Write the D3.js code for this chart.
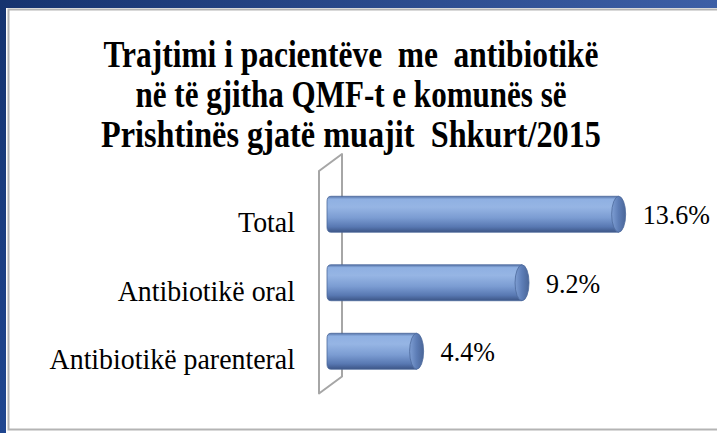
<!DOCTYPE html>
<html>
<head>
<meta charset="utf-8">
<script src="https://cdn.jsdelivr.net/npm/d3@7/dist/d3.min.js"></script>
<style>
  html, body { margin: 0; padding: 0; background: #fff; }
  svg { display: block; }
</style>
</head>
<body>
<svg id="chart" width="717" height="433"></svg>
<script>
// Share of patients treated with antibiotics, Prishtina family medicine centres, February 2015
const categories = ["Total", "Antibiotikë oral", "Antibiotikë parenteral"];
const values = [13.6, 9.2, 4.4];
const valueLabels = ["13.6%", "9.2%", "4.4%"];
const titleLines = [
  "Trajtimi i pacientëve  me  antibiotikë",
  "në të gjitha QMF-t e komunës së",
  "Prishtinës gjatë muajit  Shkurt/2015"
];

const W = 717, H = 433;
const serif = "Liberation Serif, Times New Roman, serif";
const svg = d3.select("#chart");
const defs = svg.append("defs");

// slide frame: dark blue band on top and left, thin grey inner border
const topGrad = defs.append("linearGradient").attr("id", "topBand")
  .attr("x1", 0).attr("x2", 1).attr("y1", 0).attr("y2", 0);
topGrad.append("stop").attr("offset", "0%").attr("stop-color", "#16336f");
topGrad.append("stop").attr("offset", "100%").attr("stop-color", "#3d5fa6");
const leftGrad = defs.append("linearGradient").attr("id", "leftBand")
  .attr("x1", 0).attr("x2", 0).attr("y1", 0).attr("y2", 1);
leftGrad.append("stop").attr("offset", "0%").attr("stop-color", "#15336f");
leftGrad.append("stop").attr("offset", "100%").attr("stop-color", "#1f4690");

svg.append("rect").attr("x", 0).attr("y", 0).attr("width", W).attr("height", 8).attr("fill", "url(#topBand)");
svg.append("rect").attr("x", 0).attr("y", 0).attr("width", 6).attr("height", H).attr("fill", "url(#leftBand)");
svg.append("rect").attr("x", 8.5).attr("y", 9.5).attr("width", W).attr("height", 420)
  .attr("fill", "none").attr("stroke", "#b4b4b4").attr("stroke-width", 2);

// title
const titleCenter = 351;
const titleWidths = [495, 431, 500];
svg.append("g").selectAll("text").data(titleLines).join("text")
  .attr("x", titleCenter)
  .attr("y", (d, i) => 67 + i * 40)
  .attr("text-anchor", "middle")
  .attr("xml:space", "preserve")
  .style("white-space", "pre")
  .attr("font-family", serif)
  .attr("font-weight", "bold")
  .attr("font-size", 38)
  .attr("fill", "#000")
  .attr("textLength", (d, i) => titleWidths[i])
  .attr("lengthAdjust", "spacingAndGlyphs")
  .text(d => d);

// scales
const x = d3.scaleLinear().domain([0, 14]).range([327, 327 + 14 * 21.96]);
const y = d3.scaleBand().domain(categories).range([180, 385.5])
  .paddingInner(0.475).paddingOuter(0.2375);

// 3-D side wall behind the bars
const depthX = 23, depthY = 17;
const wallFront = x(0) - 8, wallBack = wallFront + depthX;
const wallTop = y.range()[0] - 9, wallBottom = y.range()[1] + 8;
const wallPath = d3.path();
wallPath.moveTo(wallFront, wallBottom);
wallPath.lineTo(wallFront, wallTop);
wallPath.lineTo(wallBack, wallTop - depthY);
wallPath.lineTo(wallBack, wallBottom - depthY);
wallPath.closePath();
svg.append("path").attr("d", wallPath.toString())
  .attr("fill", "none").attr("stroke", "#a6a6a6").attr("stroke-width", 2)
  .attr("stroke-linejoin", "round");

// cylinder shading
const body = defs.append("linearGradient").attr("id", "cylBody")
  .attr("x1", 0).attr("x2", 0).attr("y1", 0).attr("y2", 1);
[["0%", "#5573a8"], ["8%", "#8fb0e2"], ["30%", "#96b5e4"], ["60%", "#7b9cd2"],
 ["85%", "#5878b2"], ["100%", "#3c5586"]].forEach(([o, c]) =>
  body.append("stop").attr("offset", o).attr("stop-color", c));
const cap = defs.append("linearGradient").attr("id", "cylCap")
  .attr("x1", 0).attr("x2", 1).attr("y1", 0).attr("y2", 0);
[["0%", "#7e9ed3"], ["50%", "#5d7db6"], ["100%", "#4a6698"]].forEach(([o, c]) =>
  cap.append("stop").attr("offset", o).attr("stop-color", c));

const rx = 7;
const bars = svg.append("g").selectAll("g").data(values).join("g");
bars.append("path")
  .attr("d", (d, i) => {
    const y0 = y(categories[i]), h = y.bandwidth(), x0 = x(0), x1 = x(d) - rx;
    const p = d3.path();
    p.moveTo(x0 + 4, y0);
    p.lineTo(x1, y0);
    p.lineTo(x1, y0 + h);
    p.lineTo(x0 + 4, y0 + h);
    p.quadraticCurveTo(x0, y0 + h, x0, y0 + h - 5);
    p.lineTo(x0, y0 + 5);
    p.quadraticCurveTo(x0, y0, x0 + 4, y0);
    p.closePath();
    return p.toString();
  })
  .attr("fill", "url(#cylBody)")
  .attr("stroke", "#4d6a9c").attr("stroke-width", 0.8);
bars.append("ellipse")
  .attr("cx", (d) => x(d) - rx)
  .attr("cy", (d, i) => y(categories[i]) + y.bandwidth() / 2)
  .attr("rx", rx)
  .attr("ry", y.bandwidth() / 2)
  .attr("fill", "url(#cylCap)")
  .attr("stroke", "#4d6a9c").attr("stroke-width", 0.8);

// category labels
svg.append("g").selectAll("text").data(categories).join("text")
  .attr("transform", d => `translate(295, ${y(d) + y.bandwidth() / 2 + 18}) scale(0.93, 1)`)
  .attr("text-anchor", "end")
  .attr("font-family", serif)
  .attr("font-size", 30)
  .attr("fill", "#000")
  .text(d => d);

// value labels
svg.append("g").selectAll("text").data(values).join("text")
  .attr("transform", (d, i) => `translate(${x(d) + 17}, ${y(categories[i]) + y.bandwidth() / 2 + 10}) scale(0.93, 1)`)
  .attr("font-family", serif)
  .attr("font-size", 28)
  .attr("fill", "#000")
  .text((d, i) => valueLabels[i]);
</script>
</body>
</html>
